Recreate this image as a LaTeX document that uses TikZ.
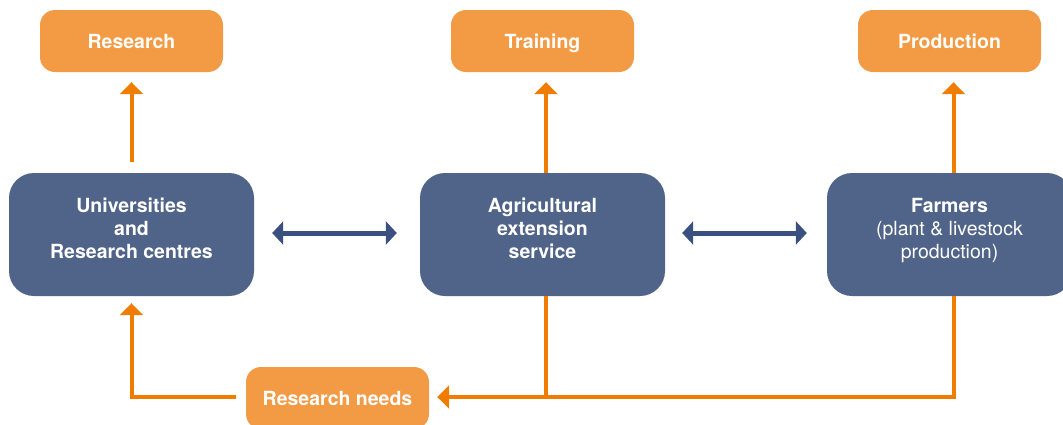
\documentclass[tikz,border=0pt]{standalone}
\usepackage{fontspec}
\setmainfont{TeX Gyre Heros}
\usetikzlibrary{arrows.meta}
\definecolor{oboxc}{RGB}{243,154,69}
\definecolor{olinec}{RGB}{240,125,0}
\definecolor{bboxc}{RGB}{80,99,137}
\definecolor{blinec}{RGB}{58,80,128}
\newcommand{\tlines}[1]{\raisebox{3.5pt}[\height][\depth]{\begin{tabular}{@{}c@{}}#1\end{tabular}}}
\begin{document}
\begin{tikzpicture}[x=1pt,y=-1pt,
  obox/.style={fill=oboxc,draw=none,rounded corners=15pt,minimum width=183pt,minimum height=62pt,
    inner sep=0pt,text=white,font=\fontsize{19.5}{23}\selectfont\bfseries,text height=14pt,text depth=0pt},
  bbox/.style={fill=bboxc,draw=none,rounded corners=25pt,minimum width=245pt,minimum height=123pt,
    inner sep=0pt,text=white,font=\fontsize{19.5}{23}\selectfont\bfseries},
  oarrow/.style={draw=olinec,line width=4pt,line join=miter,-{Triangle[width=23pt,length=12pt]}},
  oline/.style={draw=olinec,line width=4pt,line join=miter},
  barrow/.style={draw=blinec,line width=5pt,{Triangle[width=23pt,length=11pt]}-{Triangle[width=23pt,length=11pt]}}]
\useasboundingbox (0,0) rectangle (1063,424);
\node[obox] (research) at (131.5,41) {Research};
\node[obox] (training) at (542.5,41) {Training};
\node[obox] (production) at (949.5,41) {Production};
\node[bbox] (uni) at (131.5,234.5) {\tlines{Universities\\and\\Research centres}};
\node[bbox] (agri) at (542.5,234.5) {\tlines{Agricultural\\extension\\service}};
\node[bbox] (farm) at (949.5,234.5) {\tlines{Farmers\\\mdseries(plant \& livestock\\\mdseries production)}};
\node[obox] (needs) at (337.5,398) {Research needs};
% upward arrows
\draw[oarrow] ([yshift=11pt]uni.north) -- ([yshift=-10pt]research.south);
\draw[oarrow] ([xshift=3.5pt]agri.north) -- ([xshift=3.5pt,yshift=-10pt]training.south);
\draw[oarrow] ([xshift=4pt]farm.north) -- ([xshift=4pt,yshift=-10pt]production.south);
% two-way arrows
\draw[barrow] ([xshift=18pt,yshift=1.5pt]uni.east) -- ([xshift=-23pt,yshift=1.5pt]agri.west);
\draw[barrow] ([xshift=17pt,yshift=1.5pt]agri.east) -- ([xshift=-20pt,yshift=1.5pt]farm.west);
% feedback loop
\draw[oline] ([xshift=3.5pt]agri.south) -- ([xshift=3.5pt,yshift=1pt]agri.south |- needs.east);
\draw[oarrow] ([xshift=4pt]farm.south) |- ([xshift=8pt,yshift=1pt]needs.east);
\draw[oarrow] ([xshift=-10pt,yshift=1pt]needs.west) -| ([yshift=-7pt]uni.south);
\end{tikzpicture}
\end{document}
